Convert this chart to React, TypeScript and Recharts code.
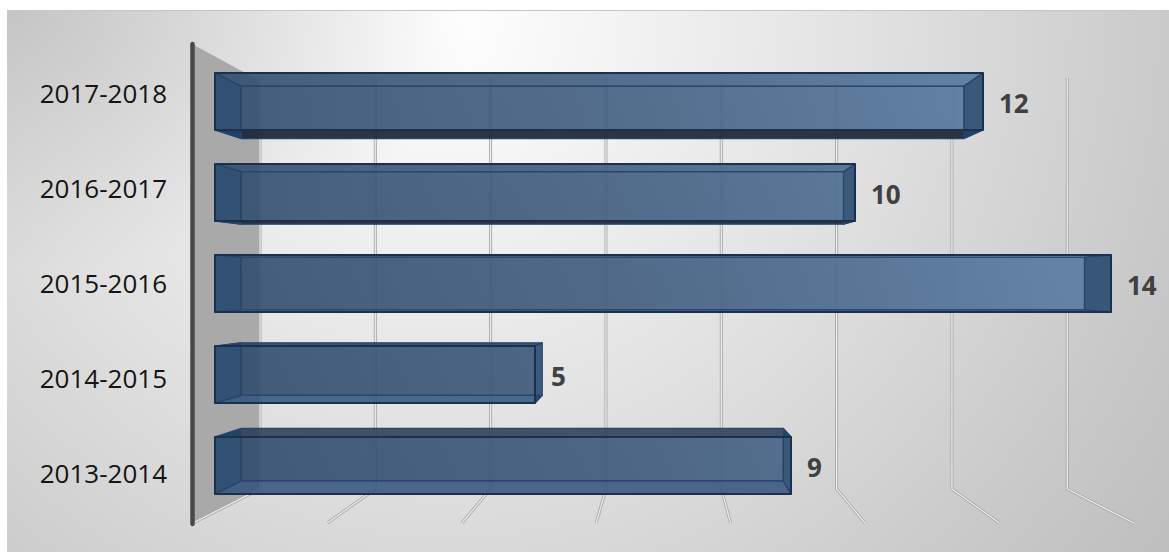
import { BarChart, Bar, XAxis, YAxis, LabelList, CartesianGrid } from 'recharts'

const categories = ['2017-2018', '2016-2017', '2015-2016', '2014-2015', '2013-2014']
const values = [12, 10, 14, 5, 9]
const xTicks = [0, 2, 4, 6, 8, 10, 12, 14]

const data = categories.map((name, i) => ({ name, value: values[i] }))

const WIDTH = 1169
const HEIGHT = 552
const PLOT_LEFT = 215
const PLOT_RIGHT = 1111
const PLOT_TOP = 56
const PLOT_BOTTOM = 511
const MID_Y = (PLOT_TOP + PLOT_BOTTOM) / 2

// the 3D depth layers, as a ratio of the front scale
const BACK_RATIO = 60.25 / 64
const WALL_RATIO = 57.66 / 64
const FLOOR_RATIO = 67.2 / 64

// grid line bent along the back wall and the floor, the first one brings the side wall
function WallLine({ x1, index }: any) {
  const d = x1 - PLOT_LEFT
  const wallX = 260 + d * WALL_RATIO
  const floorX = 193 + d * FLOOR_RATIO
  const pts = `${wallX},78 ${wallX},489 ${floorX},523`
  return (
    <g key={index}>
      {index === 0 && <polygon points="192,44 260,81 260,490 192,523" fill="#a9a9a9" />}
      <polyline points={pts} fill="none" stroke="#a8a8a8" strokeWidth={3} />
      <polyline points={pts} fill="none" stroke="#efefef" strokeWidth={1.2} />
      {index === 0 && (
        <line x1={192.5} y1={44} x2={192.5} y2={524} stroke="#484848" strokeWidth={4.5} strokeLinecap="round" />
      )}
    </g>
  )
}

// the reference shows no value labels on this axis
function NoTick() {
  return <g />
}

function YTick({ y, payload }: any) {
  return (
    <text
      x={167}
      y={283 + (y - MID_Y) * (95 / 91)}
      textAnchor="end"
      dominantBaseline="central"
      fontFamily="'Open Sans'"
      fontSize={26}
      fill="#141414"
    >
      {payload.value}
    </text>
  )
}

function Box3D({ x, y, width, height }: any) {
  const cy = y + height / 2
  const ax0 = x
  const ax1 = x + width
  const ay0 = y
  const ay1 = y + height
  const bh = height * (52.5 / 57)
  const bcy = MID_Y + (cy - MID_Y) * (85.6 / 91)
  const bx0 = x + 26
  const bx1 = bx0 + width * BACK_RATIO
  const by0 = bcy - bh / 2
  const by1 = bcy + bh / 2

  const cx0 = Math.max(ax0, bx0)
  const cx1 = Math.min(ax1, bx1)
  const cy0 = Math.max(ay0, by0)
  const cy1 = Math.min(ay1, by1)

  const edge = '#27466b'
  const topFill = by0 < ay0 ? 'rgba(38,58,84,0.86)' : 'url(#barFace)'
  const bottomFill = by1 > ay1 ? 'rgba(28,36,52,0.92)' : 'rgba(42,76,118,0.82)'
  const sideFill = 'rgba(30,66,106,0.86)'

  return (
    <g stroke={edge} strokeWidth={1.2} strokeLinejoin="round">
      <rect x={cx0} y={cy0} width={cx1 - cx0} height={cy1 - cy0} fill="url(#barFace)" />
      <polygon points={`${ax0},${ay0} ${ax1},${ay0} ${bx1},${by0} ${bx0},${by0}`} fill={topFill} />
      <polygon points={`${ax0},${ay1} ${ax1},${ay1} ${bx1},${by1} ${bx0},${by1}`} fill={bottomFill} />
      <polygon points={`${ax0},${ay0} ${bx0},${by0} ${bx0},${by1} ${ax0},${ay1}`} fill={sideFill} />
      <polygon points={`${ax1},${ay0} ${bx1},${by0} ${bx1},${by1} ${ax1},${ay1}`} fill={sideFill} />
      <path
        d={`M${ax0},${ay0} L${ax1},${ay0} L${ax1},${ay1} L${ax0},${ay1} Z`}
        fill="none"
        stroke="#1b304c"
        strokeWidth={2}
      />
    </g>
  )
}

export default function App() {
  return (
    <div style={{ position: 'absolute', left: 0, top: 0, width: WIDTH, height: HEIGHT, background: '#fff', overflow: 'hidden' }}>
      <div
        style={{
          position: 'absolute',
          left: 7,
          top: 10,
          right: 0,
          bottom: 0,
          borderTop: '1.5px solid #c6c6c6',
          background:
            'radial-gradient(ellipse 470px 260px at 0px 0px, rgba(170,170,170,0.5) 0%, rgba(170,170,170,0) 100%), radial-gradient(circle 920px at 440px 10px, #ffffff 0%, #e2e2e2 45%, #c9c9c9 80%, #bdbdbd 100%)',
        }}
      />
      <div style={{ position: 'absolute', left: 0, top: 0 }}>
        <BarChart
          width={WIDTH}
          height={HEIGHT}
          data={data}
          layout="vertical"
          margin={{ top: PLOT_TOP, right: WIDTH - PLOT_RIGHT, bottom: 0, left: 0 }}
        >
          <defs>
            <linearGradient id="barFace" gradientUnits="userSpaceOnUse" x1={215} y1={300} x2={1000} y2={60}>
              <stop offset="0%" stopColor="#2f4c6d" stopOpacity={0.9} />
              <stop offset="45%" stopColor="#3a5779" stopOpacity={0.88} />
              <stop offset="100%" stopColor="#5a7ca2" stopOpacity={0.92} />
            </linearGradient>
          </defs>
          <CartesianGrid horizontal={false} vertical={WallLine} />
          <XAxis
            type="number"
            domain={[0, 14]}
            ticks={xTicks}
            interval={0}
            axisLine={false}
            tickLine={false}
            height={HEIGHT - PLOT_BOTTOM}
            tick={NoTick}
          />
          <YAxis
            type="category"
            dataKey="name"
            width={PLOT_LEFT}
            axisLine={false}
            tickLine={false}
            interval={0}
            tick={YTick}
          />
          <Bar dataKey="value" barSize={57} shape={Box3D} isAnimationActive={false}>
            <LabelList
              dataKey="value"
              position="right"
              offset={16}
              dy={2}
              fontFamily="'Open Sans'"
              fontWeight={700}
              fontSize={26}
              fill="#404040"
            />
          </Bar>
        </BarChart>
      </div>
    </div>
  )
}
